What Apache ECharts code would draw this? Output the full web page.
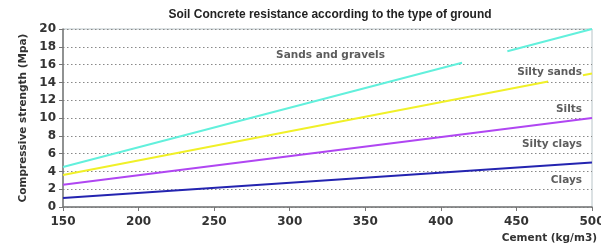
<!DOCTYPE html>
<html lang="en">
<head>
    <meta charset="UTF-8">
    <title>Soil Concrete resistance</title>
    <script src="https://cdn.jsdelivr.net/npm/echarts@6/dist/echarts.min.js"></script>
    <style>
        html, body { margin: 0; padding: 0; background: #fff; }
        #chart { width: 601px; height: 248px; }
    </style>
</head>
<body>
<div id="chart"></div>
<script>
    // cement dosage (kg/m3) and strength (Mpa); '-' = gap in the line
    var sandsGravels = [[150, 4.5], [414, 16.2], [430, '-'], [444, 17.5], [500, 20]];
    var siltySands = [[150, 3.6], [471, 14.1], [482, '-'], [494, 14.8], [500, 15]];
    var silts = [[150, 2.5], [500, 10]];
    var clays = [[150, 1.0], [500, 5.0]];

    var seriesNames = ['Sands and gravels', 'Silty sands', 'Silts', 'Clays'];
    var seriesColors = ['#62f0dc', '#f0f028', '#b046f2', '#2424b0'];

    // label text and where it sits (cement, Mpa)
    var labelTexts = ['Sands and gravels', 'Silty sands', 'Silts', 'Silty clays', 'Clays'];
    var labelPos = [[327, 17.0], [500, 15.1], [500, 11.0], [500, 7.1], [500, 3.0]];

    var chart = echarts.init(document.getElementById('chart'));

    var lineData = [sandsGravels, siltySands, silts, clays];
    var series = lineData.map(function (d, i) {
        return {
            name: seriesNames[i],
            type: 'line',
            data: d,
            symbol: 'none',
            connectNulls: false,
            lineStyle: { color: seriesColors[i], width: 2 },
            itemStyle: { color: seriesColors[i] },
            silent: true,
            z: 3
        };
    });

    series.push({
        type: 'scatter',
        symbolSize: 0,
        silent: true,
        z: 4,
        data: labelPos.map(function (p, i) {
            return {
                value: p,
                label: {
                    show: true,
                    formatter: labelTexts[i],
                    position: i === 0 ? 'inside' : 'left',
                    distance: 10,
                    color: '#333',
                    fontFamily: 'DejaVu Sans',
                    fontWeight: 'bold',
                    fontSize: 10.5
                }
            };
        })
    });

    var option = {
        animation: false,
        backgroundColor: '#fff',
        // title drawn as graphic so it can be squeezed like the condensed original
        graphic: [{
            type: 'text',
            x: 330,
            y: 14,
            scaleX: 0.92,
            style: {
                text: 'Soil Concrete resistance according to the type of ground',
                font: 'bold 13px "Liberation Sans", sans-serif',
                fill: '#222',
                align: 'center',
                verticalAlign: 'middle'
            }
        }],
        grid: { left: 63, right: 9, top: 29, bottom: 41, containLabel: false,
            outerBoundsMode: 'none',
            show: true, borderColor: '#b8c4c8', borderWidth: 1 },
        xAxis: {
            type: 'value',
            min: 150, max: 500, interval: 50,
            name: 'Cement (kg/m3)',
            nameLocation: 'end',
            nameGap: 5,
            nameTextStyle: {
                align: 'right', verticalAlign: 'top', padding: [26, 0, 0, 0],
                fontFamily: 'DejaVu Sans', fontWeight: 'bold', fontSize: 10.5, color: '#333'
            },
            axisLine: { lineStyle: { color: '#777', width: 1.5 } },
            axisTick: { show: true, length: 4, lineStyle: { color: '#777' } },
            axisLabel: { fontFamily: 'DejaVu Sans', fontWeight: 'bold', fontSize: 12, color: '#333', margin: 9 },
            splitLine: { show: false }
        },
        yAxis: {
            type: 'value',
            min: 0, max: 20, interval: 2,
            name: 'Compressive strength (Mpa)',
            nameLocation: 'middle',
            nameGap: 33,
            nameTextStyle: { fontFamily: 'DejaVu Sans', fontWeight: 'bold', fontSize: 10.5, color: '#333' },
            axisLine: { show: true, lineStyle: { color: '#777', width: 1.5 } },
            axisTick: { show: true, length: 4, lineStyle: { color: '#777' } },
            axisLabel: { fontFamily: 'DejaVu Sans', fontWeight: 'bold', fontSize: 12, color: '#333', margin: 7 },
            splitLine: { show: true, lineStyle: { color: '#888', type: [1.5, 2.5], width: 1 } }
        },
        series: series
    };
    chart.setOption(option);
</script>
</body>
</html>
